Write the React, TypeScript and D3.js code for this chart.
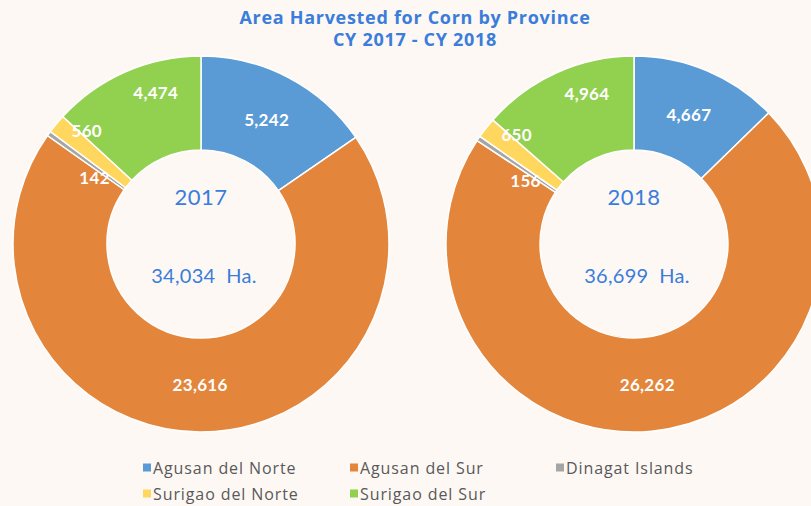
import React from "react";
import * as d3 from "d3";

const provinces = ["Agusan del Norte", "Agusan del Sur", "Dinagat Islands", "Surigao del Norte", "Surigao del Sur"];
const values2017 = [5242, 23616, 142, 560, 4474];
const values2018 = [4667, 26262, 156, 650, 4964];
const years = ["2017", "2018"];
const totals = ["34,034", "36,699"];
const colors = ["#5b9bd5", "#e3853b", "#a5a5a5", "#ffd75e", "#92d050"];
// label radial factor and angular nudge (degrees) per slice
const labelRadius = [1.0, 1.0, 0.89, 1.14, 1.12];
const labelAngleShift = [0, 0, -4, 5, 7];

const W = 811;
const H = 506;
const fontFamily = "Lato, 'Open Sans', sans-serif";
const wideFont = "'Open Sans', Lato, sans-serif";

function Donut({ values, cx, cy, year, total }: { values: number[]; cx: number; cy: number; year: string; total: string }) {
  const outer = 188;
  const inner = 94;
  const pie = d3.pie<number>().sort(null).value((d) => d)(values);
  const arc = d3.arc<d3.PieArcDatum<number>>().innerRadius(inner).outerRadius(outer);
  const fmt = d3.format(",");
  const mid = (inner + outer) / 2;
  return (
    <g transform={`translate(${cx},${cy})`}>
      {pie.map((p, i) => (
        <path key={i} d={arc(p) || ""} fill={colors[i]} stroke="#ffffff" strokeWidth={1.5} />
      ))}
      {pie.map((p, i) => {
        const a = (p.startAngle + p.endAngle) / 2 + (labelAngleShift[i] * Math.PI) / 180;
        const r = mid * labelRadius[i];
        const x = Math.sin(a) * r;
        const y = -Math.cos(a) * r;
        return (
          <text key={"l" + i} x={x} y={y} textAnchor="middle" dominantBaseline="central" fill="#ffffff" fontWeight="bold" fontSize={17} fontFamily={fontFamily} letterSpacing={0.3}>
            {fmt(values[i])}
          </text>
        );
      })}
      <text x={0} y={-48} textAnchor="middle" dominantBaseline="central" fill="#3a7ddb" fontSize={22} fontFamily={fontFamily} letterSpacing={0.5}>
        {year}
      </text>
      <text x={3} y={31} textAnchor="middle" dominantBaseline="central" fill="#3a7ddb" fontSize={20} fontFamily={fontFamily} letterSpacing={0.3} style={{ whiteSpace: "pre" }}>
        {total + "  Ha."}
      </text>
    </g>
  );
}

export default function App() {
  const legendX = [143, 350, 556];
  const legendY = [468, 494];
  return (
    <svg width={W} height={H} style={{ position: "absolute", left: 0, top: 0, display: "block" }}>
      <rect x={0} y={0} width={W} height={H} fill="#fdf8f4" />
      <text x={415} y={17} textAnchor="middle" dominantBaseline="central" fill="#3a7ddb" fontWeight="bold" fontSize={18} fontFamily={wideFont} letterSpacing={0.7}>
        Area Harvested for Corn by Province
      </text>
      <text x={415} y={39} textAnchor="middle" dominantBaseline="central" fill="#3a7ddb" fontWeight="bold" fontSize={18} fontFamily={wideFont} letterSpacing={0.7}>
        CY 2017 - CY 2018
      </text>
      <Donut values={values2017} cx={201} cy={244} year={years[0]} total={totals[0]} />
      <Donut values={values2018} cx={634} cy={244} year={years[1]} total={totals[1]} />
      {provinces.map((p, i) => {
        const x = legendX[i % 3];
        const y = legendY[Math.floor(i / 3)];
        return (
          <g key={p}>
            <rect x={x} y={y - 4.5} width={8} height={8} fill={colors[i]} />
            <text x={x + 10} y={y} dominantBaseline="central" fill="#595959" fontSize={16} fontFamily={wideFont} letterSpacing={0.9}>
              {p}
            </text>
          </g>
        );
      })}
    </svg>
  );
}
